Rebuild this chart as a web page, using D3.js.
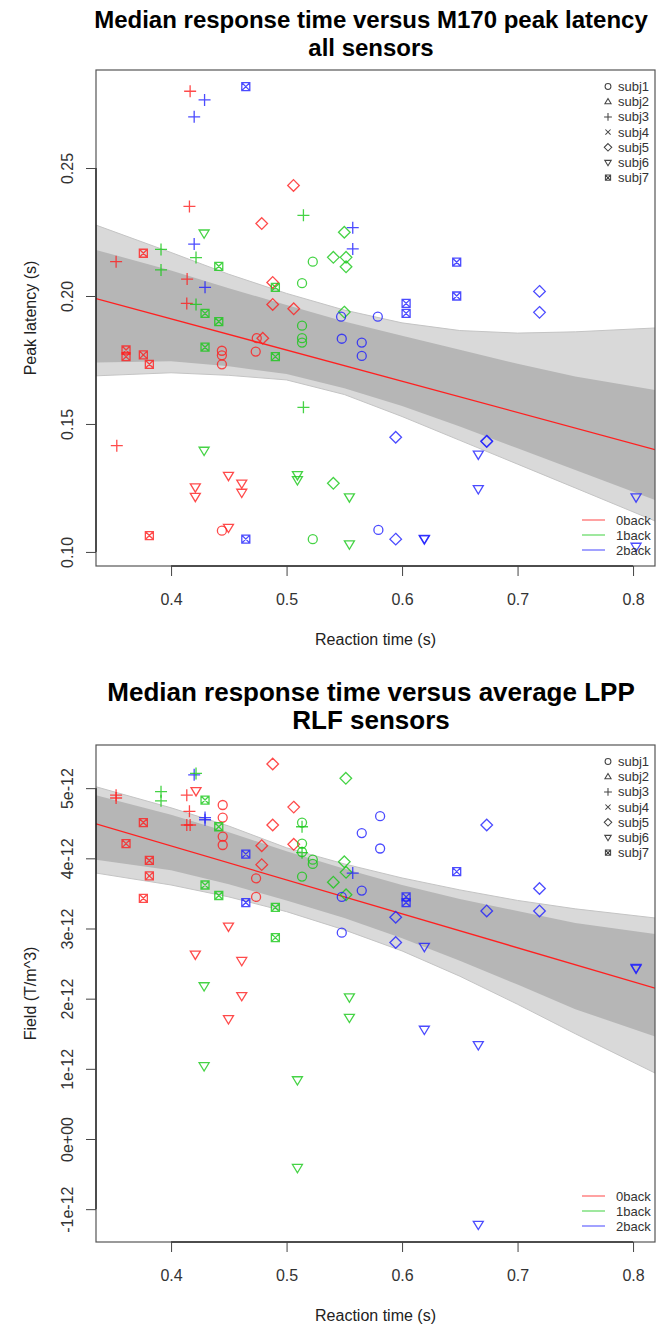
<!DOCTYPE html>
<html>
<head>
<meta charset="utf-8">
<script src="https://cdn.jsdelivr.net/npm/d3@7"></script>
<style>
  body { margin: 0; background: #fff; }
  text { font-family: "Liberation Sans", Arial, sans-serif; }
</style>
</head>
<body>
<div id="chart"></div>
<script>
// ---- data ----
const conditions = ["0back", "1back", "2back"];
const condColors = ["#ff1e1e", "#16c816", "#1e1eff"];
const subjects = ["subj1", "subj2", "subj3", "subj4", "subj5", "subj6", "subj7"];

const xTicks = [0.4, 0.5, 0.6, 0.7, 0.8];
const topYTicks = [0.10, 0.15, 0.20, 0.25];
const topYLabels = ["0.10", "0.15", "0.20", "0.25"];
const botYTicks = [-1, 0, 1, 2, 3, 4, 5]; // units of 1e-12
const botYLabels = ["-1e-12", "0e+00", "1e-12", "2e-12", "3e-12", "4e-12", "5e-12"];

// [reaction time, value, condition index, subject number]
const latencyPoints = [
  [0.4165, 0.280, 0, 3], [0.429, 0.2766, 2, 3], [0.420, 0.270, 2, 3], [0.4647, 0.2818, 2, 7],
  [0.506, 0.2432, 0, 5], [0.4159, 0.2350, 0, 3], [0.5146, 0.2315, 1, 3], [0.4785, 0.2283, 0, 5],
  [0.4286, 0.2245, 1, 6], [0.550, 0.2249, 1, 5], [0.5573, 0.2267, 2, 3], [0.420, 0.2203, 2, 3],
  [0.5573, 0.2184, 2, 3], [0.376, 0.2167, 0, 7], [0.3913, 0.2182, 1, 3], [0.4216, 0.2150, 1, 3],
  [0.5405, 0.2151, 1, 5], [0.5515, 0.2151, 1, 5], [0.5515, 0.2114, 1, 5], [0.5227, 0.2134, 1, 1],
  [0.3524, 0.2134, 0, 3], [0.3913, 0.2102, 1, 3], [0.4413, 0.2116, 1, 7], [0.4139, 0.2066, 0, 3],
  [0.5134, 0.2050, 1, 1], [0.488, 0.2053, 0, 5], [0.4903, 0.2034, 1, 7], [0.4294, 0.2034, 2, 3],
  [0.4136, 0.1971, 0, 3], [0.4216, 0.1967, 1, 3], [0.488, 0.1967, 0, 5], [0.5062, 0.1950, 0, 5],
  [0.4294, 0.1932, 1, 7], [0.550, 0.1937, 1, 5], [0.5472, 0.1919, 2, 1], [0.579, 0.1919, 2, 1],
  [0.4413, 0.1900, 1, 7], [0.6473, 0.2132, 2, 7], [0.6473, 0.2000, 2, 7], [0.6035, 0.1971, 2, 7],
  [0.6035, 0.1932, 2, 7], [0.719, 0.2018, 2, 5], [0.719, 0.1936, 2, 5], [0.5134, 0.1884, 1, 1],
  [0.5134, 0.1835, 1, 1], [0.5134, 0.1818, 1, 1], [0.361, 0.1789, 0, 7], [0.361, 0.1763, 0, 7],
  [0.376, 0.1770, 0, 7], [0.3812, 0.1733, 0, 7], [0.4294, 0.1800, 1, 7], [0.444, 0.1786, 0, 1],
  [0.444, 0.1768, 0, 1], [0.444, 0.1733, 0, 1], [0.4742, 0.1835, 0, 1], [0.4794, 0.1835, 0, 5],
  [0.4733, 0.1783, 0, 1], [0.4903, 0.1763, 1, 7], [0.5478, 0.1833, 2, 1], [0.5651, 0.1818, 2, 1],
  [0.5651, 0.1766, 2, 1], [0.5146, 0.1565, 1, 3], [0.353, 0.1415, 0, 3], [0.4286, 0.1396, 1, 6],
  [0.4497, 0.1298, 0, 6], [0.421, 0.1253, 0, 6], [0.421, 0.1216, 0, 6], [0.4612, 0.1268, 0, 6],
  [0.4612, 0.1232, 0, 6], [0.5094, 0.1301, 1, 6], [0.5094, 0.1281, 1, 6], [0.5405, 0.1268, 1, 5],
  [0.5544, 0.1214, 1, 6], [0.3812, 0.1064, 0, 7], [0.444, 0.1083, 0, 1], [0.4497, 0.1095, 0, 6],
  [0.4647, 0.1050, 2, 7], [0.5227, 0.1050, 1, 1], [0.5544, 0.1030, 1, 6], [0.5795, 0.1086, 2, 1],
  [0.5945, 0.1448, 2, 5], [0.6733, 0.1431, 2, 5], [0.6733, 0.1433, 2, 5], [0.666, 0.1381, 2, 6],
  [0.666, 0.1246, 2, 6], [0.8026, 0.1214, 2, 6], [0.5945, 0.1050, 2, 5], [0.6193, 0.1050, 2, 6],
  [0.6193, 0.1052, 2, 6], [0.8026, 0.1021, 2, 6]
];

// field values in units of 1e-12 T/m^3
const lppPoints = [
  [0.488, 5.344, 0, 5], [0.420, 5.19, 2, 3], [0.4216, 5.21, 1, 3], [0.5513, 5.14, 1, 5],
  [0.4216, 4.96, 0, 6], [0.3524, 4.90, 0, 3], [0.3524, 4.86, 0, 3], [0.3913, 4.95, 1, 3],
  [0.3913, 4.82, 1, 3], [0.4136, 4.90, 0, 3], [0.4294, 4.83, 1, 7], [0.4447, 4.76, 0, 1],
  [0.4159, 4.67, 0, 3], [0.4447, 4.58, 0, 1], [0.4294, 4.58, 2, 3], [0.4294, 4.55, 2, 3],
  [0.4136, 4.475, 0, 3], [0.4165, 4.475, 0, 3], [0.4413, 4.45, 1, 7], [0.376, 4.51, 0, 7],
  [0.5062, 4.73, 0, 5], [0.488, 4.475, 0, 5], [0.5134, 4.51, 1, 1], [0.5134, 4.45, 1, 3],
  [0.4447, 4.31, 0, 1], [0.4447, 4.19, 0, 1], [0.361, 4.21, 0, 7], [0.4785, 4.18, 0, 5],
  [0.5062, 4.20, 0, 5], [0.5134, 4.21, 1, 1], [0.5134, 4.08, 1, 3], [0.5134, 4.09, 1, 1],
  [0.5227, 3.98, 1, 1], [0.5227, 3.92, 1, 1], [0.4647, 4.06, 2, 7], [0.3812, 3.97, 0, 7],
  [0.4785, 3.91, 0, 5], [0.3812, 3.75, 0, 7], [0.4736, 3.715, 0, 1], [0.550, 3.95, 1, 5],
  [0.5515, 3.80, 1, 5], [0.5573, 3.79, 2, 3], [0.5134, 3.74, 1, 1], [0.5405, 3.66, 1, 5],
  [0.4294, 3.62, 1, 7], [0.5515, 3.48, 1, 5], [0.5478, 3.45, 2, 1], [0.5651, 3.54, 2, 1],
  [0.4413, 3.47, 1, 7], [0.376, 3.43, 0, 7], [0.4736, 3.45, 0, 1], [0.4647, 3.37, 2, 7],
  [0.4903, 3.30, 1, 7], [0.5478, 2.94, 2, 1], [0.4903, 2.87, 1, 7], [0.4497, 3.03, 0, 6],
  [0.421, 2.63, 0, 6], [0.4612, 2.54, 0, 6], [0.581, 4.60, 2, 1], [0.5651, 4.36, 2, 1],
  [0.581, 4.14, 2, 1], [0.6733, 4.475, 2, 5], [0.6473, 3.81, 2, 7], [0.719, 3.57, 2, 5],
  [0.719, 3.25, 2, 5], [0.6733, 3.25, 2, 5], [0.6035, 3.45, 2, 7], [0.6035, 3.37, 2, 7],
  [0.5945, 3.16, 2, 5], [0.5945, 2.80, 2, 5], [0.6193, 2.74, 2, 6], [0.4286, 2.18, 1, 6],
  [0.4612, 2.04, 0, 6], [0.5544, 2.02, 1, 6], [0.5544, 1.73, 1, 6], [0.4497, 1.71, 0, 6],
  [0.4286, 1.04, 1, 6], [0.5094, 0.84, 1, 6], [0.5094, -0.41, 1, 6], [0.8026, 2.43, 2, 6],
  [0.8026, 2.44, 2, 6], [0.6193, 1.56, 2, 6], [0.666, 1.34, 2, 6], [0.666, -1.22, 2, 6]
];

// bootstrap fit lines: spread of the grey bundle, read at these reaction times
const bandX = [0.335, 0.40, 0.45, 0.50, 0.55, 0.60, 0.65, 0.70, 0.75, 0.819];
const latOuterHi = [0.2277, 0.2170, 0.2085, 0.2010, 0.1945, 0.1895, 0.1865, 0.1855, 0.1860, 0.1875];
const latInnerHi = [0.218, 0.210, 0.203, 0.1965, 0.190, 0.1845, 0.179, 0.1735, 0.1685, 0.1633];
const latInnerLo = [0.174, 0.1745, 0.1725, 0.1695, 0.164, 0.157, 0.149, 0.1405, 0.132, 0.1203];
const latOuterLo = [0.1688, 0.1700, 0.1690, 0.1672, 0.1615, 0.1529, 0.1436, 0.1343, 0.1250, 0.1121];
const lppOuterHi = [5.02, 4.72, 4.46, 4.15, 3.92, 3.72, 3.55, 3.40, 3.28, 3.15];
const lppInnerHi = [4.90, 4.62, 4.37, 4.10, 3.85, 3.62, 3.42, 3.25, 3.08, 2.92];
const lppInnerLo = [3.98, 3.83, 3.63, 3.40, 3.15, 2.86, 2.54, 2.20, 1.85, 1.46];
const lppOuterLo = [3.79, 3.62, 3.45, 3.24, 2.98, 2.68, 2.32, 1.92, 1.50, 0.94];

// overall regression line (red)
const fitX = [0.335, 0.819];
const latFit = [0.199, 0.140];
const lppFit = [4.49, 2.15];

// ---- drawing ----
const width = 667, height = 1328;
const svg = d3.select("#chart").append("svg")
  .attr("width", width).attr("height", height);

// R pch 1..7 glyphs
const symbolPath = {
  1: "M4.5,0A4.5,4.5 0 1,1 -4.5,0A4.5,4.5 0 1,1 4.5,0Z",
  2: "M0,-5L4.8,3.3L-4.8,3.3Z",
  3: "M-6,0H6M0,-6V6",
  4: "M-4,-4L4,4M-4,4L4,-4",
  5: "M0,-5.8L5.8,0L0,5.8L-5.8,0Z",
  6: "M-5,-3.3L5,-3.3L0,5Z",
  7: "M-4,-4H4V4H-4ZM-4,-4L4,4M-4,4L4,-4"
};

function drawPanel(cfg) {
  const { top, bottom, left, right } = cfg.box;
  const x = d3.scaleLinear().domain([0.335, 0.819]).range([left, right]);
  const y = d3.scaleLinear().domain(cfg.yDomain).range([bottom, top]);
  const g = svg.append("g");

  const clipId = "clip" + cfg.id;
  g.append("clipPath").attr("id", clipId)
    .append("rect").attr("x", left).attr("y", top)
    .attr("width", right - left).attr("height", bottom - top);
  const plot = g.append("g").attr("clip-path", `url(#${clipId})`);

  // grey bundle of bootstrap lines
  const outer = d3.area().x((d, i) => x(bandX[i]))
    .y0((d, i) => y(cfg.outerLo[i])).y1((d, i) => y(cfg.outerHi[i]));
  const inner = d3.area().x((d, i) => x(bandX[i]))
    .y0((d, i) => y(cfg.innerLo[i])).y1((d, i) => y(cfg.innerHi[i]));
  plot.append("path").datum(bandX).attr("d", outer)
    .attr("fill", "#d9d9d9").attr("stroke", "#c4c4c4").attr("stroke-width", 1);
  plot.append("path").datum(bandX).attr("d", inner)
    .attr("fill", "#b6b6b6");

  // red fit
  const line = d3.line().x((d, i) => x(fitX[i])).y(d => y(d));
  plot.append("path").datum(cfg.fit).attr("d", line)
    .attr("fill", "none").attr("stroke", "#ff2020").attr("stroke-width", 1.3);

  // points
  plot.selectAll(".pt").data(cfg.points).enter().append("path")
    .attr("class", "pt")
    .attr("transform", d => `translate(${x(d[0])},${y(d[1])})`)
    .attr("d", d => symbolPath[d[3]])
    .attr("fill", "none")
    .attr("stroke", d => condColors[d[2]])
    .attr("stroke-opacity", 0.8)
    .attr("stroke-width", 1.3);

  // box
  g.append("rect").attr("x", left).attr("y", top)
    .attr("width", right - left).attr("height", bottom - top)
    .attr("fill", "none").attr("stroke", "#555").attr("stroke-width", 1.2);

  // axes
  const gx = g.append("g").attr("transform", `translate(0,${bottom})`)
    .call(d3.axisBottom(x).tickValues(xTicks).tickSize(10).tickSizeOuter(0)
      .tickFormat(d3.format(".1f")));
  gx.select(".domain").attr("d", `M${x(xTicks[0])},0H${x(xTicks[xTicks.length - 1])}`);
  gx.selectAll(".tick line").attr("stroke", "#444");
  gx.selectAll(".tick text").attr("y", 33).attr("dy", "0.35em")
    .attr("fill", "#333").style("font-size", "16px")
    .style("font-family", "'Liberation Sans', Arial, sans-serif");

  const gy = g.append("g").attr("transform", `translate(${left},0)`)
    .call(d3.axisLeft(y).tickValues(cfg.yTicks).tickSize(10).tickSizeOuter(0)
      .tickFormat((d, i) => cfg.yLabels[i]));
  gy.select(".domain").attr("d",
    `M0,${y(cfg.yTicks[0])}V${y(cfg.yTicks[cfg.yTicks.length - 1])}`);
  gy.selectAll(".tick line").attr("stroke", "#444");
  gy.selectAll(".tick text").attr("x", 0).attr("y", 0).attr("dy", "0.35em")
    .attr("text-anchor", "middle")
    .attr("transform", "translate(-29,0) rotate(-90)")
    .attr("fill", "#333").style("font-size", "16px")
    .style("font-family", "'Liberation Sans', Arial, sans-serif");

  // axis titles
  g.append("text").attr("x", (left + right) / 2).attr("y", bottom + 73)
    .attr("dy", "0.35em").attr("text-anchor", "middle")
    .attr("fill", "#222").style("font-size", "16px").text("Reaction time (s)");
  g.append("text")
    .attr("transform", `translate(${left - 66},${(top + bottom) / 2}) rotate(-90)`)
    .attr("dy", "0.35em").attr("text-anchor", "middle")
    .attr("fill", "#222").style("font-size", "16px").text(cfg.yTitle);

  // main title
  cfg.title.forEach((t, i) => {
    g.append("text").attr("x", 371).attr("y", cfg.titleY[i])
      .attr("dy", "0.35em").attr("text-anchor", "middle")
      .style("font-size", cfg.titleSize + "px").style("font-weight", "bold")
      .attr("fill", "#000").text(t);
  });

  // subject legend (top right)
  const leg = g.append("g");
  subjects.forEach((s, i) => {
    const yy = top + 16.5 + i * 15.2;
    leg.append("path").attr("d", symbolPath[i + 1])
      .attr("transform", `translate(${right - 47},${yy}) scale(0.65)`)
      .attr("fill", "none").attr("stroke", "#444").attr("stroke-width", 1.6);
    leg.append("text").attr("x", right - 37).attr("y", yy).attr("dy", "0.35em")
      .attr("fill", "#333").style("font-size", "13px").text(s);
  });

  // condition legend (bottom right)
  conditions.forEach((c, i) => {
    const yy = bottom - 46 + i * 15;
    leg.append("line").attr("x1", right - 73).attr("x2", right - 50)
      .attr("y1", yy).attr("y2", yy)
      .attr("stroke", condColors[i]).attr("stroke-opacity", 0.55).attr("stroke-width", 1.5);
    leg.append("text").attr("x", right - 39).attr("y", yy).attr("dy", "0.35em")
      .attr("fill", "#333").style("font-size", "13px").text(c);
  });
}

drawPanel({
  id: "top",
  box: { top: 70, bottom: 566, left: 96, right: 655 },
  yDomain: [0.0945, 0.2883],
  yTicks: topYTicks, yLabels: topYLabels,
  points: latencyPoints,
  outerHi: latOuterHi, innerHi: latInnerHi, innerLo: latInnerLo, outerLo: latOuterLo,
  fit: latFit,
  yTitle: "Peak latency (s)",
  title: ["Median response time versus M170 peak latency", "all sensors"],
  titleSize: 24,
  titleY: [20, 48]
});

drawPanel({
  id: "bot",
  box: { top: 745, bottom: 1242, left: 96, right: 655 },
  yDomain: [-1.468, 5.615],
  yTicks: botYTicks, yLabels: botYLabels,
  points: lppPoints,
  outerHi: lppOuterHi, innerHi: lppInnerHi, innerLo: lppInnerLo, outerLo: lppOuterLo,
  fit: lppFit,
  yTitle: "Field (T/m^3)",
  title: ["Median response time versus average LPP", "RLF sensors"],
  titleSize: 26,
  titleY: [692, 720]
});
</script>
</body>
</html>
